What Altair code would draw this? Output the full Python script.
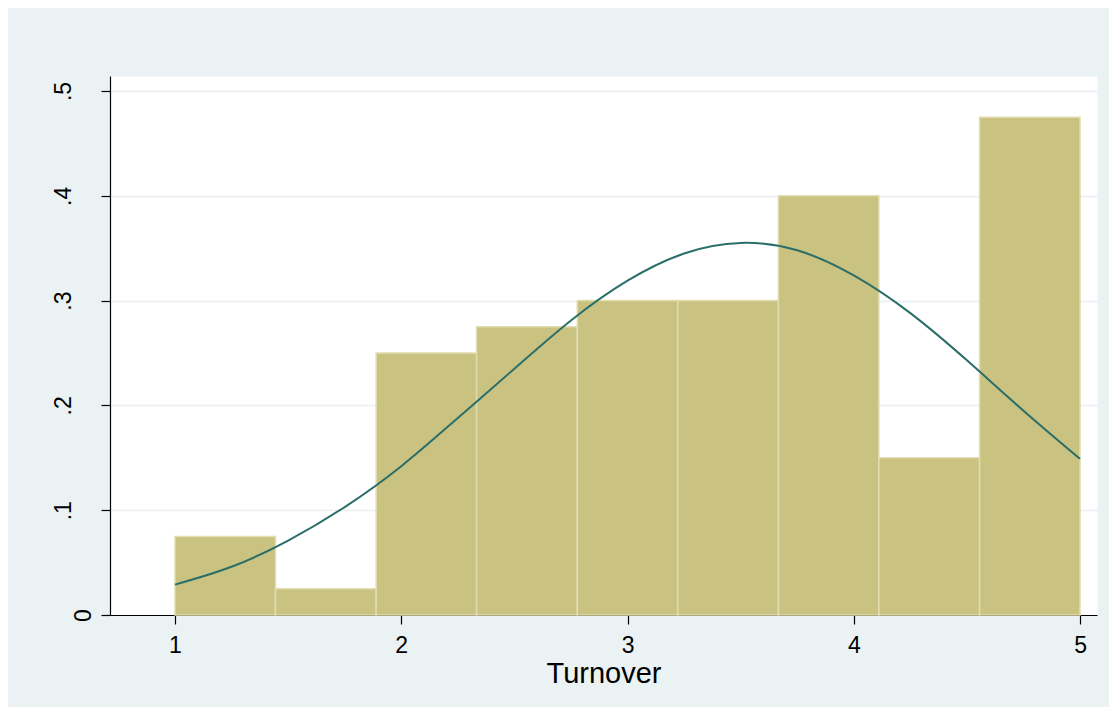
import altair as alt
import pandas as pd

# Histogram bins (Turnover) and densities
bin_left = [1.000, 1.444, 1.889, 2.333, 2.778, 3.222, 3.667, 4.111, 4.556]
bin_right = [1.444, 1.889, 2.333, 2.778, 3.222, 3.667, 4.111, 4.556, 5.000]
density = [0.075, 0.025, 0.250, 0.275, 0.300, 0.300, 0.400, 0.150, 0.475]

# Normal-density overlay
curve_x = [1.00, 1.25, 1.50, 1.75, 2.00, 2.25, 2.50, 2.75, 3.00,
           3.25, 3.50, 3.75, 4.00, 4.25, 4.50, 4.75, 5.00]
curve_y = [0.029, 0.046, 0.071, 0.103, 0.142, 0.188, 0.235, 0.281, 0.319,
           0.345, 0.355, 0.348, 0.324, 0.288, 0.243, 0.195, 0.149]

x_ticks = [1, 2, 3, 4, 5]
y_ticks = [0, 0.1, 0.2, 0.3, 0.4, 0.5]

bars_df = pd.DataFrame({"left": bin_left, "right": bin_right, "density": density})
curve_df = pd.DataFrame({"x": curve_x, "y": curve_y})

FONT = "Liberation Sans"
xscale = alt.Scale(domain=[0.7127, 5.075], nice=False, zero=False)
yscale = alt.Scale(domain=[0, 0.5143], nice=False)

xaxis = alt.Axis(
    values=x_ticks, title="Turnover", grid=False, format="d",
    domainColor="black", domainWidth=1.2, tickColor="black", tickWidth=1.2, tickSize=9,
    labelFont=FONT, labelFontSize=23, labelColor="black", labelPadding=10,
    titleFont=FONT, titleFontSize=29, titleFontWeight="normal", titleColor="black",
    titleY=67, titleBaseline="alphabetic",
)
yaxis = alt.Axis(
    values=y_ticks, title="", grid=True, gridColor="#e7eff1", gridWidth=1.5,
    domainColor="black", domainWidth=1.2, tickColor="black", tickWidth=1.2, tickSize=9,
    labelFont=FONT, labelFontSize=23, labelColor="black", labelAngle=270,
    labelAlign="center", labelBaseline="alphabetic",
    labelPadding={"condition": {"test": "datum.value == 0", "value": 11}, "value": 31},
    labelExpr="datum.value == 0 ? '0' : replace(format(datum.value, '.1f'), '0.', '.')",
)

bars = alt.Chart(bars_df).mark_bar(
    color="#cac281", stroke="#e2ddb0", strokeWidth=1.5
).encode(
    x=alt.X("left:Q", scale=xscale, axis=xaxis),
    x2="right:Q",
    y=alt.Y("density:Q", scale=yscale, axis=yaxis),
    y2=alt.datum(0),
)

line = alt.Chart(curve_df).mark_line(
    color="#2a6e69", strokeWidth=2, interpolate="natural"
).encode(
    x=alt.X("x:Q", scale=xscale),
    y=alt.Y("y:Q", scale=yscale),
)

chart = alt.layer(bars, line).properties(
    width=987, height=539,
    autosize="none",
    padding={"left": 102, "top": 68, "right": 12, "bottom": 92},
    background="#eaf2f3",
).configure_view(fill="white", stroke="transparent")

chart.save("out.html", embed_options={"renderer": "svg", "actions": False})
